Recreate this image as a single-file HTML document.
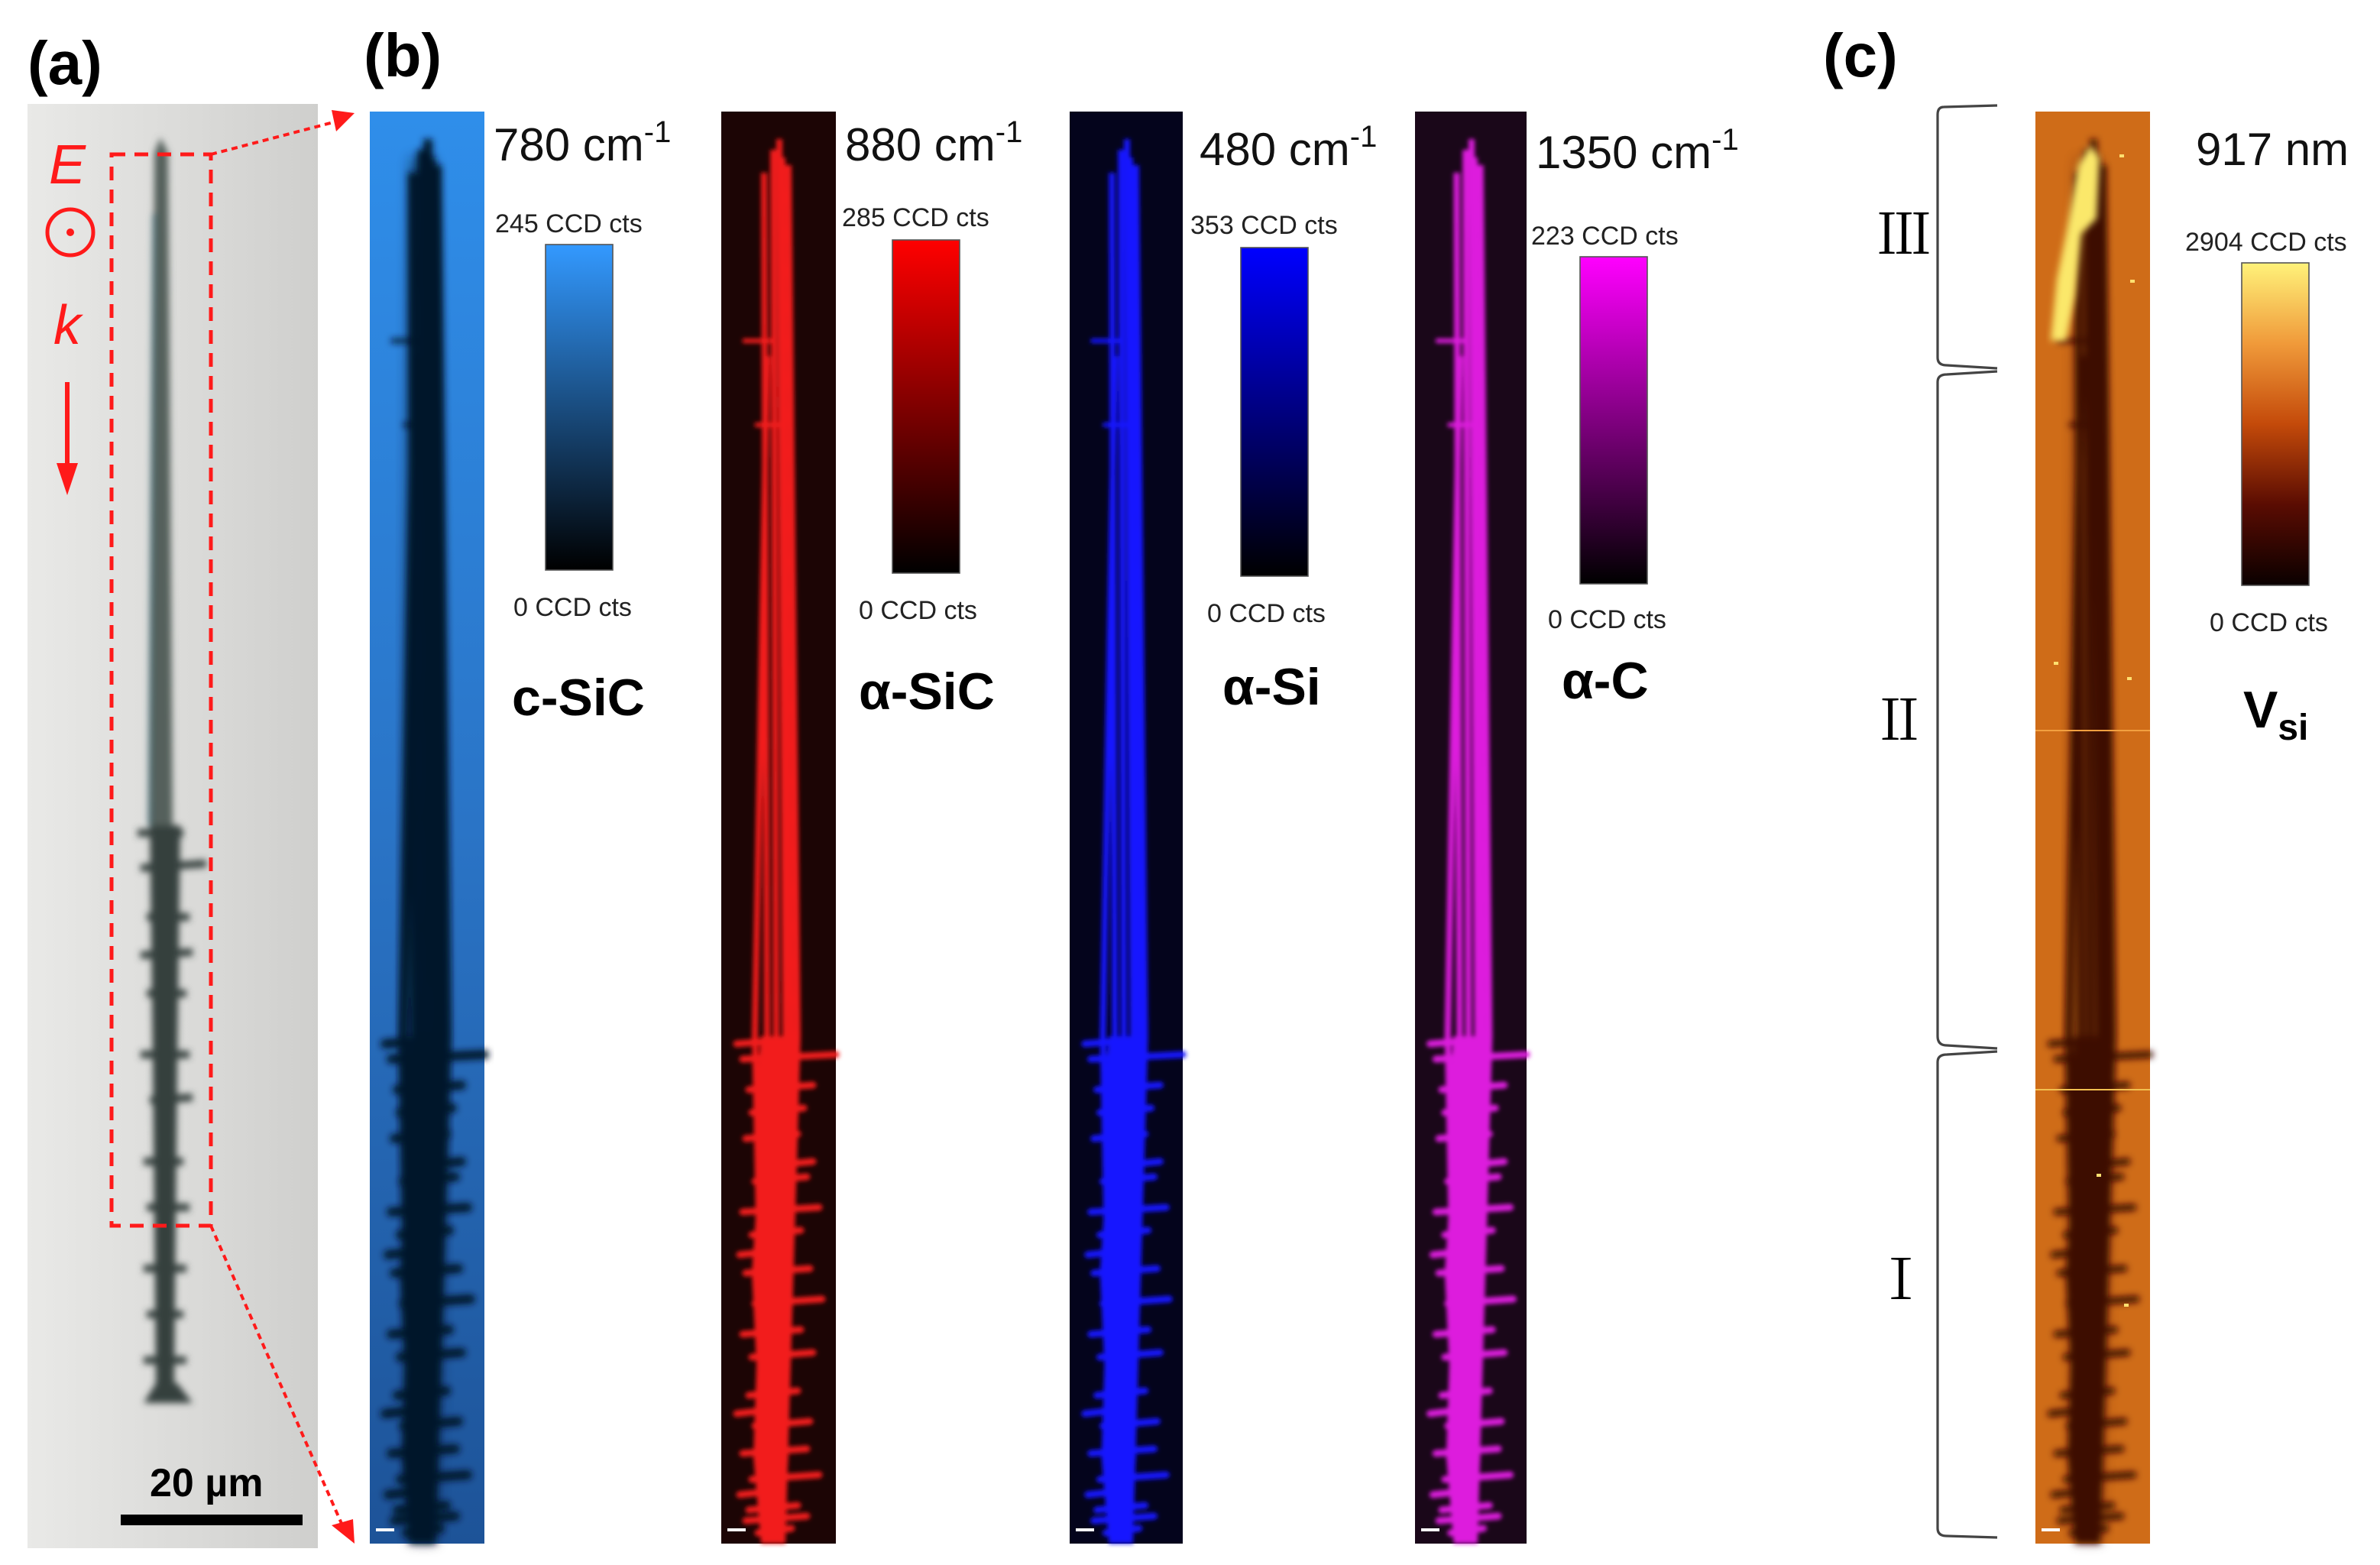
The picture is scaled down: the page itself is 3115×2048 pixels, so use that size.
<!DOCTYPE html>
<html><head><meta charset="utf-8"><style>
html,body{margin:0;padding:0;background:#fff;}
svg{display:block;}
text{font-family:"Liberation Sans",sans-serif;}
</style></head>
<body>
<svg id="fig" xmlns="http://www.w3.org/2000/svg" width="3115" height="2048" viewBox="0 0 1557.5 1024">
<defs>
 <linearGradient id="gA" x1="0" x2="1"><stop offset="0" stop-color="#e9e9e7"/><stop offset="0.5" stop-color="#dcdcda"/><stop offset="1" stop-color="#cfcfcd"/></linearGradient>
 <linearGradient id="gBlue" x1="0" y1="0" x2="0" y2="1"><stop offset="0" stop-color="#2f8eea"/><stop offset="0.5" stop-color="#2a74c6"/><stop offset="1" stop-color="#1d5398"/></linearGradient>
 <linearGradient id="cb0" x1="0" y1="0" x2="0" y2="1"><stop offset="0" stop-color="#3399ff"/><stop offset="1" stop-color="#000"/></linearGradient>
 <linearGradient id="cb1" x1="0" y1="0" x2="0" y2="1"><stop offset="0" stop-color="#ff0000"/><stop offset="1" stop-color="#000"/></linearGradient>
 <linearGradient id="cb2" x1="0" y1="0" x2="0" y2="1"><stop offset="0" stop-color="#0000ff"/><stop offset="1" stop-color="#000"/></linearGradient>
 <linearGradient id="cb3" x1="0" y1="0" x2="0" y2="1"><stop offset="0" stop-color="#ff00ff"/><stop offset="1" stop-color="#000"/></linearGradient>
 <linearGradient id="cb4" x1="0" y1="0" x2="0" y2="1"><stop offset="0" stop-color="#fff27a"/><stop offset="0.25" stop-color="#f09a3a"/><stop offset="0.5" stop-color="#c44a0a"/><stop offset="0.75" stop-color="#5a0c02"/><stop offset="1" stop-color="#0a0000"/></linearGradient>
 <filter id="blur1"><feGaussianBlur stdDeviation="1.4"/></filter>
 <filter id="blur2"><feGaussianBlur stdDeviation="2.2"/></filter>
 <filter id="blur3"><feGaussianBlur stdDeviation="4"/></filter>
</defs>

<text x="18" y="55" font-size="40" font-weight="bold">(a)</text>
<text x="238" y="50" font-size="40" font-weight="bold">(b)</text>
<text x="1193" y="50" font-size="40" font-weight="bold">(c)</text>

<g>
 <rect x="18" y="68" width="190" height="945" fill="url(#gA)"/>
 <g filter="url(#blur2)" fill="#34403e" stroke="#34403e">
  <path d="M101,100 L105,90 L110,100 L113,540 L99,540 Z" stroke="none" fill="#55605c"/>
  <line x1="101" y1="140" x2="98" y2="540" stroke="#3b6670" stroke-width="2"/>
  <path d="M98,540 L118,540 L116,700 L114,905 L102,905 L100,700 Z" stroke="none"/>
  <path d="M90,545 L120,545 M92,568 L135,565 M96,600 L124,600 M92,625 L126,623 M96,650 L122,650 M92,690 L124,690 M98,720 L126,718 M94,760 L120,760 M96,790 L124,790 M94,830 L122,830 M96,860 L120,860 M94,890 L122,890" stroke-width="5"/>
  <path d="M94,918 L126,918 L116,905 L102,905 Z" stroke="none"/>
 </g>
 <rect x="73" y="101" width="65" height="701" fill="none" stroke="#ff1a1a" stroke-width="2.5" stroke-dasharray="9,6"/>
 <line x1="138" y1="101" x2="222" y2="79" stroke="#ff1a1a" stroke-width="2" stroke-dasharray="4,3"/>
 <polygon points="232,74 217,72 220,86" fill="#ff1a1a"/>
 <line x1="138" y1="802" x2="224" y2="998" stroke="#ff1a1a" stroke-width="2" stroke-dasharray="4,3"/>
 <polygon points="232,1010 217,998 231,994" fill="#ff1a1a"/>
 <text x="32" y="120" font-size="36" font-style="italic" fill="#ff1a1a">E</text>
 <circle cx="46" cy="152" r="15" fill="none" stroke="#ff1a1a" stroke-width="2.5"/>
 <circle cx="46" cy="152" r="2.5" fill="#ff1a1a"/>
 <text x="35" y="225" font-size="36" font-style="italic" fill="#ff1a1a">k</text>
 <line x1="44" y1="250" x2="44" y2="305" stroke="#ff1a1a" stroke-width="3"/>
 <polygon points="37,303 51,303 44,324" fill="#ff1a1a"/>
 <text x="98" y="979" font-size="26" font-weight="bold">20 µm</text>
 <rect x="79" y="991" width="119" height="7" fill="#000"/>
</g>

<g id="maps"></g>

<g fill="none" stroke="#444" stroke-width="1.6">
 <path d="M1307,69 L1272,70 Q1268,70 1268,75 L1268,234 Q1268,239 1274,239 L1307,241"/>
 <path d="M1307,243 L1274,245 Q1268,245 1268,250 L1268,678 Q1268,684 1274,684 L1307,686"/>
 <path d="M1307,688 L1274,690 Q1268,690 1268,695 L1268,1000 Q1268,1005 1274,1005 L1307,1006"/>
</g>
<text x="1228" y="166" font-size="36" style="font-family:'Noto Serif CJK SC','Liberation Serif',serif">Ⅲ</text>
<text x="1225" y="484" font-size="36" style="font-family:'Noto Serif CJK SC','Liberation Serif',serif">Ⅱ</text>
<text x="1226" y="850" font-size="36" style="font-family:'Noto Serif CJK SC','Liberation Serif',serif">Ⅰ</text>

<script>
const mapTitles = ["780 cm", "880 cm", "480 cm", "1350 cm", "917 nm"];
const titleSup = ["-1", "-1", "-1", "-1", ""];
const maxLabels = ["245 CCD cts", "285 CCD cts", "353 CCD cts", "223 CCD cts", "2904 CCD cts"];
const minLabels = ["0 CCD cts", "0 CCD cts", "0 CCD cts", "0 CCD cts", "0 CCD cts"];
const phaseNames = ["c-SiC", "α-SiC", "α-Si", "α-C", "V"];

const NS = "http://www.w3.org/2000/svg";
const root = document.getElementById('maps');
function mk(tag, attrs, parent){ const e=document.createElementNS(NS,tag); for(const k in attrs) e.setAttribute(k,attrs[k]); (parent||root).appendChild(e); return e; }

const panels = [
 {x:242,w:75,bg:'url(#gBlue)',fg:'#06152a',sw:6,cbx:357,cby:160,cbh:213,tx:323,ty:105,mx:324,my:152,nx:336,ny:403,px:335,py:468},
 {x:472,w:75,bg:'#1c0505',fg:'#f21a1a',sw:4,cbx:584,cby:157,cbh:218,tx:553,ty:105,mx:551,my:148,nx:562,ny:405,px:562,py:464},
 {x:700,w:74,bg:'#04041c',fg:'#1616ff',sw:4,cbx:812,cby:162,cbh:215,tx:785,ty:108,mx:779,my:153,nx:790,ny:407,px:800,py:461},
 {x:926,w:73,bg:'#1a0719',fg:'#dd1cdd',sw:4,cbx:1034,cby:168,cbh:214,tx:1005,ty:110,mx:1002,my:160,nx:1013,ny:411,px:1022,py:457},
 {x:1332,w:75,bg:'#cf6c18',fg:'#3c0a00',sw:5,cbx:1467,cby:172,cbh:211,tx:1437,ty:108,mx:1430,my:164,nx:1446,ny:413,px:1468,py:476}
];
const strands=[[30,160,22],[34,25,36],[38,18,42],[44,35,50],[28,40,30],[40,30,46]];
const trunkL=[[26,605],[22,650],[24,700],[20,760],[23,820],[21,880],[26,937]];
const trunkR=[[40,937],[44,880],[42,820],[46,760],[44,700],[49,650],[48,605]];
// spikes: [relY, leftExtent, rightExtent]
const spikes=[[610,10,48],[620,14,75],[640,18,60],[655,20,54],[672,16,50],[700,22,56],[720,14,64],[735,20,52],[760,16,58],[780,22,66],[800,14,52],[815,20,60],[840,18,50],[860,22,58],[878,14,56],[895,20,64],[915,18,50],[930,24,46],[690,30,60],[748,12,40],[852,10,36],[905,12,40],[922,16,56]];

panels.forEach((p,i)=>{
 const g = mk('g',{});
 
 
 const y0=73, h=937;
 mk('rect',{x:p.x,y:y0,width:p.w,height:h,fill:p.bg},g);
 const X=o=>p.x+o*p.w/75;
 if(i===0||i===4){
   mk('path',{d:`M${X(26)},${y0+30} L${X(42)},${y0+30} L${X(52)},${y0+600} L${X(44)},${y0+h} L${X(26)},${y0+h} L${X(20)},${y0+600} Z`,fill:p.fg,opacity:i===0?0.5:0.3,filter:'url(#blur3)'},g);
 }
 const wg = mk('g',{filter: i===0||i===4 ? 'url(#blur2)':'url(#blur1)', stroke:p.fg, fill:p.fg},g);
 strands.forEach(s=>{
  mk('path',{d:`M${X(s[0])},${y0+s[1]} L${X(s[2])},${y0+605} L${X(s[2]*0.4+20)},${y0+h}`,fill:'none','stroke-width':p.sw},wg);
 });
 const pts=trunkL.concat(trunkR).map(q=>X(q[0])+','+(y0+q[1])).join(' ');
 mk('polygon',{points:pts,stroke:'none'},wg);
 spikes.forEach(s=>{
  mk('path',{d:`M${X(s[1])},${y0+s[0]} L${X(s[2])},${y0+s[0]-3}`,'stroke-width':i===0?6:4.5,'stroke-linecap':'round',fill:'none'},wg);
 });
 mk('line',{x1:X(14),y1:y0+150,x2:X(34),y2:y0+150,'stroke-width':3},wg);
 mk('line',{x1:X(22),y1:y0+205,x2:X(38),y2:y0+205,'stroke-width':3},wg);
 if(i===4){
  mk('path',{d:`M${X(28)},${y0+35} L${X(36)},${y0+22} L${X(42)},${y0+30} L${X(40)},${y0+70} L${X(30)},${y0+80} L${X(26)},${y0+120} L${X(20)},${y0+150} L${X(10)},${y0+150} L${X(14)},${y0+110} L${X(20)},${y0+80} Z`,fill:'#fbe86a',stroke:'none',filter:'url(#blur2)'},g);
  mk('line',{x1:p.x,y1:y0+405,x2:p.x+p.w,y2:y0+405,stroke:'#f2a040','stroke-width':1},g);
  mk('line',{x1:p.x,y1:y0+640,x2:p.x+p.w,y2:y0+640,stroke:'#f2c050','stroke-width':1},g);
  [[55,28],[62,110],[12,360],[60,370],[40,695],[58,780]].forEach(q=>mk('rect',{x:X(q[0]),y:y0+q[1],width:3,height:2,fill:'#ffe070'},g));
 }
 mk('rect',{x:p.x+4,y:y0+h-10,width:12,height:2,fill:'#fff',stroke:'none'},g);
 const cb = mk('rect',{x:p.cbx,y:p.cby,width:44,height:p.cbh,fill:`url(#cb${i})`,stroke:'#555','stroke-width':0.8},g);
 
 
 const t = mk('text',{x:p.tx,y:p.ty,'font-size':30,fill:'#111'},g);
 
 
 t.textContent = mapTitles[i];
 if(titleSup[i]){ const sp=document.createElementNS(NS,'tspan'); sp.setAttribute('dy','-12'); sp.setAttribute('font-size','20'); sp.textContent=titleSup[i]; t.appendChild(sp); }
 const mx = mk('text',{x:p.mx,y:p.my,'font-size':17,fill:'#222'},g);
 
 
 mx.textContent = maxLabels[i];
 const mn = mk('text',{x:p.nx,y:p.ny,'font-size':17,fill:'#222'},g);
 
 
 mn.textContent = minLabels[i];
 const pn = mk('text',{x:p.px,y:p.py,'font-size':34,'font-weight':'bold',fill:'#000'},g);
 
 
 pn.textContent = phaseNames[i];
 if(i===4){ const sb=document.createElementNS(NS,'tspan'); sb.setAttribute('dy','8'); sb.setAttribute('font-size','24'); sb.textContent='si'; pn.appendChild(sb); }
});
</script>
</svg>
</body></html>
